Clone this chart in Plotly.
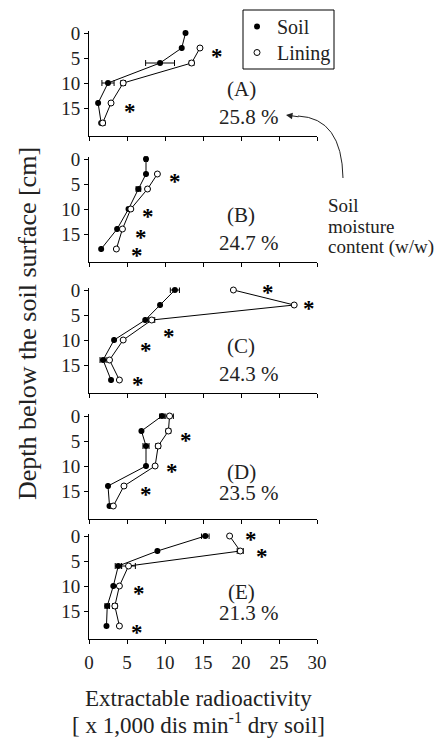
import plotly.graph_objects as go

FONT = "Liberation Serif, Times New Roman, Times, serif"
W, H = 438, 738

# ---------------- data ----------------
panel_labels = ["(A)", "(B)", "(C)", "(D)", "(E)"]
moisture_labels = ["25.8 %", "24.7 %", "24.3 %", "23.5 %", "21.3 %"]
x_ticks = [0, 5, 10, 15, 20, 25, 30]
y_ticks = [0, 5, 10, 15]

soil_depth = [0, 3, 6, 10, 14, 18]

soil_A = [12.7, 12.2, 9.35, 2.5, 1.2, 1.6]
soil_A_err = [0, 0, 1.9, 0.8, 0, 0]
lining_A_depth = [3, 6, 10, 14, 18]
lining_A = [14.6, 13.5, 4.5, 2.9, 1.8]
lining_A_err = [0, 0.3, 0.3, 0, 0.3]

soil_B = [7.5, 7.5, 6.5, 5.2, 3.7, 1.6]
soil_B_err = [0.2, 0, 0.3, 0, 0, 0]
lining_B_depth = [3, 6, 10, 14, 18]
lining_B = [9.0, 7.7, 5.5, 4.4, 3.6]
lining_B_err = [0, 0.2, 0.2, 0, 0]

soil_C = [11.3, 9.35, 7.4, 3.3, 1.85, 2.9]
soil_C_err = [0.6, 0, 0, 0, 0.4, 0]
lining_C_depth = [0, 3, 6, 10, 14, 18]
lining_C = [19.0, 27.0, 8.25, 4.5, 2.7, 4.0]
lining_C_err = [0, 0, 0.4, 0, 0, 0]

soil_D = [9.6, 6.9, 7.5, 7.5, 2.5, 2.7]
soil_D_err = [0.3, 0, 0.4, 0, 0, 0]
lining_D_depth = [0, 3, 6, 10, 14, 18]
lining_D = [10.6, 10.45, 9.1, 8.7, 4.6, 3.2]
lining_D_err = [0.5, 0.3, 0.3, 0, 0, 0]

soil_E = [15.3, 9.0, 3.85, 3.2, 2.4, 2.3]
soil_E_err = [0.5, 0, 0.4, 0, 0.3, 0]
lining_E_depth = [0, 3, 6, 10, 14, 18]
lining_E = [18.5, 19.9, 5.2, 4.0, 3.4, 4.0]
lining_E_err = [0, 0.4, 0.9, 0, 0.3, 0]

# significance asterisks (x, depth) per panel
star_A_x = [16.85, 5.4]
star_A_d = [3.8, 14.8]
star_B_x = [11.3, 7.8, 6.9, 6.3]
star_B_d = [3.5, 10.5, 14.7, 18.2]
star_C_x = [23.6, 29.0, 10.5, 7.5, 6.5]
star_C_d = [-0.45, 2.7, 8.3, 11.2, 18.0]
star_D_x = [12.7, 10.9, 7.5]
star_D_d = [3.8, 10.0, 14.7]
star_E_x = [21.3, 22.8, 6.6, 6.3]
star_E_d = [-0.4, 3.0, 10.5, 18.2]

panels = [
    (soil_A, soil_A_err, lining_A_depth, lining_A, lining_A_err, star_A_x, star_A_d),
    (soil_B, soil_B_err, lining_B_depth, lining_B, lining_B_err, star_B_x, star_B_d),
    (soil_C, soil_C_err, lining_C_depth, lining_C, lining_C_err, star_C_x, star_C_d),
    (soil_D, soil_D_err, lining_D_depth, lining_D, lining_D_err, star_D_x, star_D_d),
    (soil_E, soil_E_err, lining_E_depth, lining_E, lining_E_err, star_E_x, star_E_d),
]

# ---------------- layout helpers ----------------
def px_x(p):
    return p / W

def px_y(p):
    return 1 - p / H

# pixel top/bottom of each panel's plotting area
panel_px = [(30.5, 135.5), (156.5, 261.5), (287.5, 392.5), (413.5, 518.5), (533.5, 638.5)]
x_dom = [px_x(89), px_x(317)]
TXT = "#222"

fig = go.Figure()
annotations = []
layout = {}

for i, (soil, soil_err, ld, lin, lin_err, sx, sd) in enumerate(panels):
    n = "" if i == 0 else str(i + 1)
    xa, ya = "x" + n, "y" + n
    fig.add_trace(go.Scatter(
        x=soil, y=soil_depth, xaxis=xa, yaxis=ya, mode="lines+markers",
        line=dict(color="black", width=1),
        marker=dict(symbol="circle", size=6, color="black"),
        error_x=dict(type="data", array=soil_err, color="black", thickness=1, width=3),
        showlegend=False, cliponaxis=False))
    fig.add_trace(go.Scatter(
        x=lin, y=ld, xaxis=xa, yaxis=ya, mode="lines+markers",
        line=dict(color="black", width=1),
        marker=dict(symbol="circle", size=6, color="white", line=dict(color="black", width=1)),
        error_x=dict(type="data", array=lin_err, color="black", thickness=1, width=3),
        showlegend=False, cliponaxis=False))
    top, bot = panel_px[i]
    layout["xaxis" + n] = dict(
        domain=x_dom, range=[0, 30], anchor=ya, tickvals=x_ticks,
        showticklabels=(i == 4), ticks="outside", ticklen=4, tickwidth=1, tickcolor="black",
        showline=True, linecolor="black", linewidth=1, showgrid=False, zeroline=False,
        tickfont=dict(family=FONT, size=19, color=TXT), automargin=False,
        ticklabelstandoff=3)
    layout["yaxis" + n] = dict(
        domain=[px_y(bot), px_y(top)], range=[20.5, -0.5], anchor=xa, tickvals=y_ticks,
        ticks="outside", ticklen=4, tickwidth=1, tickcolor="black",
        showline=True, linecolor="black", linewidth=1, showgrid=False, zeroline=False,
        tickfont=dict(family=FONT, size=19, color=TXT), automargin=False)
    for x, d in zip(sx, sd):
        annotations.append(dict(x=x, y=d, xref=xa, yref=ya, text="<b>*</b>", showarrow=False,
                                font=dict(family=FONT, size=23, color="#000"),
                                xanchor="center", yanchor="middle", yshift=-5))
    annotations.append(dict(x=20.0, y=11.2, xref=xa, yref=ya, text=panel_labels[i],
                            showarrow=False, font=dict(family=FONT, size=21, color=TXT),
                            xanchor="center", yanchor="middle"))
    annotations.append(dict(x=21.0, y=16.8 if i < 3 else 15.4, xref=xa, yref=ya,
                            text=moisture_labels[i], showarrow=False,
                            font=dict(family=FONT, size=21, color=TXT),
                            xanchor="center", yanchor="middle"))

# legend-only entries (one legend per row so the rows sit like the reference)
fig.add_trace(go.Scatter(x=[None], y=[None], mode="markers", name="Soil", legend="legend",
                         marker=dict(symbol="circle", size=6, color="black")))
fig.add_trace(go.Scatter(x=[None], y=[None], mode="markers", name="Lining", legend="legend2",
                         marker=dict(symbol="circle", size=6, color="white",
                                     line=dict(color="black", width=1))))

# axis titles
annotations.append(dict(x=px_x(28), y=px_y(324), xref="paper", yref="paper",
                        text="Depth below the soil surface [cm]", textangle=-90,
                        showarrow=False, font=dict(family=FONT, size=26, color=TXT),
                        xanchor="center", yanchor="middle"))
annotations.append(dict(x=px_x(198), y=px_y(698), xref="paper", yref="paper",
                        text="Extractable radioactivity", showarrow=False,
                        font=dict(family=FONT, size=23, color=TXT),
                        xanchor="center", yanchor="middle"))
annotations.append(dict(x=px_x(198), y=px_y(740), xref="paper", yref="paper",
                        text="[ x 1,000 dis min<sup>-1</sup> dry soil]", showarrow=False,
                        font=dict(family=FONT, size=23, color=TXT),
                        xanchor="center", yanchor="bottom"))

# soil moisture note
for txt, yy in [("Soil", 205), ("moisture", 226), ("content (w/w)", 247)]:
    annotations.append(dict(x=px_x(326), y=px_y(yy), xref="paper", yref="paper",
                            text=txt, showarrow=False,
                            font=dict(family=FONT, size=19, color=TXT),
                            xanchor="left", yanchor="middle"))
# arrowhead
annotations.append(dict(x=px_x(286), y=px_y(115), xref="paper", yref="paper", text="",
                        showarrow=True, arrowhead=2, arrowsize=1.3, arrowwidth=1,
                        arrowcolor=TXT, ax=14, ay=2))

shapes = [
    dict(type="path", xref="paper", yref="paper",
         path="M {:.4f},{:.4f} Q {:.4f},{:.4f} {:.4f},{:.4f}".format(
             px_x(343), px_y(178), px_x(342), px_y(118), px_x(298), px_y(116)),
         line=dict(color=TXT, width=1)),
    # legend frame
    dict(type="rect", xref="paper", yref="paper", layer="above",
         x0=px_x(243), x1=px_x(334), y0=px_y(69), y1=px_y(10),
         fillcolor="rgba(0,0,0,0)", line=dict(color="black", width=1)),
]

leg_common = dict(xanchor="left", yanchor="top", borderwidth=0,
                  bgcolor="rgba(0,0,0,0)",
                  font=dict(family=FONT, size=20, color=TXT), itemwidth=30)

fig.update_layout(
    width=W, height=H, margin=dict(l=0, r=0, t=0, b=0),
    paper_bgcolor="white", plot_bgcolor="white",
    font=dict(family=FONT, color=TXT),
    annotations=annotations, shapes=shapes,
    legend=dict(x=px_x(237), y=px_y(7), **leg_common),
    legend2=dict(x=px_x(237), y=px_y(33), **leg_common),
    **layout)

fig.write_html("out.html",
               config={"displayModeBar": False},
               post_script="document.body.style.margin='0';"
                           "document.body.style.overflow='hidden';")
